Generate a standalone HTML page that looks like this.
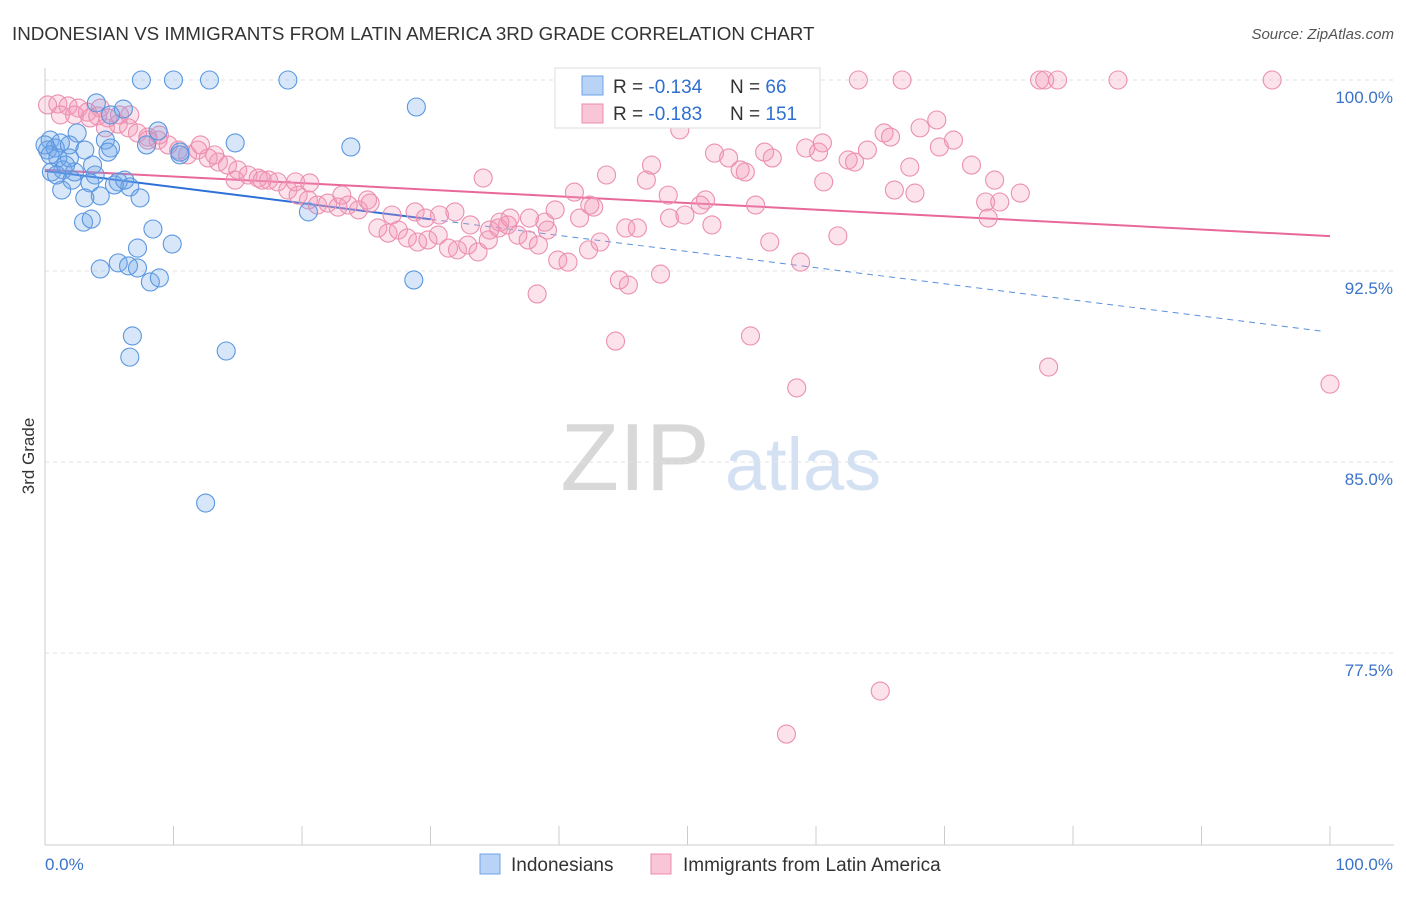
<!DOCTYPE html>
<html><head><meta charset="utf-8"><style>
body{margin:0;background:#fff;font-family:"Liberation Sans",sans-serif;}
svg text{font-family:"Liberation Sans",sans-serif;}
</style></head><body>
<svg id="chart" width="1406" height="892" xmlns="http://www.w3.org/2000/svg">
<text x="12" y="40" font-size="18.8" fill="#333">INDONESIAN VS IMMIGRANTS FROM LATIN AMERICA 3RD GRADE CORRELATION CHART</text>
<text x="1394" y="39" font-size="15" fill="#555" font-style="italic" text-anchor="end">Source: ZipAtlas.com</text>
<text x="34" y="456" font-size="17" fill="#333" transform="rotate(-90 34 456)" text-anchor="middle">3rd Grade</text>
<g><text x="635" y="490" font-size="96" fill="#d8d8d8" font-family="Liberation Serif" text-anchor="middle">ZIP</text><text x="803" y="490" font-size="74" fill="#d3e1f3" text-anchor="middle">atlas</text></g>
<g id="grid"></g><g id="axes"></g><g id="trends"></g><g id="pts"></g>
<g>
<rect x="555" y="68" width="265" height="60" fill="#fff" stroke="#ddd"/>
<rect x="582" y="76" width="21" height="19" fill="#b8d3f5" stroke="#6ea3e6"/>
<text x="613" y="93" font-size="19" fill="#333">R = <tspan fill="#2f6fd0">-0.134</tspan></text>
<text x="730" y="93" font-size="19" fill="#333">N =  <tspan fill="#2f6fd0">66</tspan></text>
<rect x="582" y="104" width="21" height="19" fill="#f8c6d6" stroke="#ec8eb0"/>
<text x="613" y="120" font-size="19" fill="#333">R = <tspan fill="#2f6fd0">-0.183</tspan></text>
<text x="730" y="120" font-size="19" fill="#333">N = <tspan fill="#2f6fd0">151</tspan></text>
</g>
<g>
<rect x="480" y="854" width="20" height="20" fill="#b8d3f5" stroke="#6ea3e6"/>
<text x="511" y="871" font-size="19" fill="#333">Indonesians</text>
<rect x="651" y="854" width="20" height="20" fill="#f8c6d6" stroke="#ec8eb0"/>
<text x="683" y="871" font-size="19" fill="#333">Immigrants from Latin America</text>
</g>
</svg>
<script>
const yTicks=[100,92.5,85,77.5];
const yTickLabels=["100.0%","92.5%","85.0%","77.5%"];
const blueX=[7.5,10,12.8,18.9,28.9,4,6.1,5.1,8.8,2.5,0.4,1.2,4.7,14.8,23.8,0.2,0.8,1.9,3.1,5.1,7.9,10.5,1,1.9,3.7,4.9,0.5,1.4,2.3,3.9,3.5,5.7,6.6,2.1,1.3,4.3,3.1,7.4,5.4,20.5,3,3.6,8.4,7.2,9.9,5.7,6.5,4.3,7.2,8.2,8.9,28.7,6.8,6.6,14.1,12.5,0,0.4,0.9,1.6,6.2,10.5];
const blueY=[100,100,100,100,98.94,99.1,98.86,98.63,98,97.92,97.64,97.53,97.64,97.53,97.37,97.25,97.33,97.45,97.25,97.33,97.45,97.17,96.94,96.94,96.66,97.17,96.39,96.47,96.39,96.27,95.96,96,95.8,96.07,95.68,95.45,95.37,95.37,95.88,94.82,94.42,94.54,94.15,93.4,93.56,92.82,92.7,92.58,92.62,92.07,92.23,92.15,89.95,89.12,89.36,83.39,97.45,97.06,96.27,96.66,96.07,97.06];
const pinkX=[0.2,1,1.8,2.6,3.3,4.1,4.9,5.7,6.5,7.2,8,8.8,9.6,10.4,11.1,11.9,12.7,13.5,14.2,15,15.8,16.6,17.4,18.1,18.9,19.7,20.5,21.2,22,22.8,23.6,24.4,25.1,25.9,26.7,27.5,28.2,29,29.8,30.6,31.4,32.1,32.9,33.7,34.5,35.3,36,36.8,37.6,38.4,39.1,39.9,40.7,42.3,43.2,44.7,45.4,44.4,47.9,38.3,34.1,36.2,38.9,41.6,42.7,43.7,45.2,46.1,46.8,47.2,48.5,48.6,49.4,49.8,51,51.4,52.1,51.9,53.2,54.1,54.5,55.3,56,56.6,56.4,54.9,58.5,58.8,59.2,60.2,60.5,60.6,61.7,62.5,63,63.3,64,65.3,66.1,65.8,66.7,67.3,67.7,68.1,69.4,69.6,70.7,72.1,73.2,73.4,73.9,74.3,75.9,77.4,77.8,78.8,78.1,83.5,95.5,100,65,57.7,53.2,4.3,5.8,1.2,2.3,3.5,4.7,6.6,8,8.9,12.1,13.2,14.8,16.9,19.5,20.6,23.1,25.3,27,28.8,29.6,30.7,31.9,33.1,34.6,35.4,37.7,39.7,41.2,42.4];
const pinkY=[99.02,99.06,98.98,98.9,98.74,98.59,98.51,98.27,98.12,97.92,97.76,97.64,97.45,97.25,97.06,97.25,96.94,96.78,96.66,96.47,96.27,96.15,96.07,96,95.68,95.48,95.29,95.09,95.17,95.01,95.09,94.9,95.29,94.19,93.99,94.11,93.8,93.64,93.72,93.91,93.4,93.33,93.52,93.25,93.72,94.19,94.31,93.91,93.72,93.52,94.11,92.93,92.85,93.33,93.64,92.15,91.95,89.75,92.38,91.6,96.15,94.58,94.42,94.58,95.01,96.27,94.19,94.19,96.07,96.66,95.48,94.58,98.04,94.7,95.09,95.29,97.13,94.31,96.94,96.47,96.39,95.09,97.17,96.94,93.64,89.95,87.91,92.85,97.33,97.17,97.53,96,93.88,96.86,96.78,100,97.25,97.92,95.68,97.76,100,96.58,95.56,98.12,98.43,97.37,97.64,96.66,95.21,94.58,96.07,95.21,95.56,100,100,100,88.73,100,100,88.06,76.01,74.32,98.74,98.9,98.63,98.63,98.63,98.51,98.12,98.63,97.64,97.84,97.45,97.06,96.07,96.07,96,95.96,95.48,95.17,94.7,94.82,94.58,94.7,94.82,94.31,94.11,94.42,94.58,94.9,95.6,95.09];
const blueTrend=[96.43,90.1];
const pinkTrend=[96.47,93.87];
const NS="http://www.w3.org/2000/svg";
const X=v=>45+v*12.85, Y=v=>80+(100-v)*25.47;
function mk(tag,attrs,parent){const e=document.createElementNS(NS,tag);for(const k in attrs)e.setAttribute(k,attrs[k]);document.getElementById(parent).appendChild(e);return e;}
yTicks.forEach((t,i)=>{
 const l=mk('line',{x1:45,x2:1394,y1:Y(t),y2:Y(t),stroke:'#e2e2e2','stroke-dasharray':'4 4'},'grid');
 
 
 const tx=mk('text',{x:1393,y:Y(t)+23,'font-size':17,fill:'#3b73c8','text-anchor':'end'},'grid');
 tx.textContent=yTickLabels[i];
 
 
});
const ax=mk('line',{x1:45,x2:45,y1:68,y2:845,stroke:'#ccc'},'axes');


const bx=mk('line',{x1:45,x2:1394,y1:845,y2:845,stroke:'#ccc'},'axes');


for(let i=0;i<=10;i++){const t=mk('line',{x1:X(i*10),x2:X(i*10),y1:826,y2:845,stroke:'#ccc'},'axes');
 
 }
const xl0=mk('text',{x:45,y:870,'font-size':17,fill:'#3b73c8'},'axes');xl0.textContent='0.0%';


const xl1=mk('text',{x:1393,y:870,'font-size':17,fill:'#3b73c8','text-anchor':'end'},'axes');xl1.textContent='100.0%';


function addPts(xs,ys,fill,stroke,name){xs.forEach((x,i)=>{const c=mk('circle',{cx:X(x),cy:Y(ys[i]),r:9,fill:fill,stroke:stroke,'stroke-width':1.1},'pts');
 
 });}
addPts(pinkX,pinkY,'rgba(244,150,182,0.28)','#eb8fb0','latin-america-point');
addPts(blueX,blueY,'rgba(110,165,235,0.28)','#5a97e0','indonesian-point');
const bt1=mk('line',{x1:X(0),y1:Y(blueTrend[0]),x2:X(30),y2:Y(blueTrend[0]+(blueTrend[1]-blueTrend[0])*0.3),stroke:'#2f6fd8','stroke-width':2},'trends');


const bt2=mk('line',{x1:X(30),y1:Y(blueTrend[0]+(blueTrend[1]-blueTrend[0])*0.3),x2:X(99.6),y2:Y(blueTrend[0]+(blueTrend[1]-blueTrend[0])*0.996),stroke:'#5a8fdc','stroke-width':1,'stroke-dasharray':'6 5'},'trends');


const pt=mk('line',{x1:X(0),y1:Y(pinkTrend[0]),x2:X(100),y2:Y(pinkTrend[1]),stroke:'#e8689a','stroke-width':2},'trends');


</script>
</body></html>
